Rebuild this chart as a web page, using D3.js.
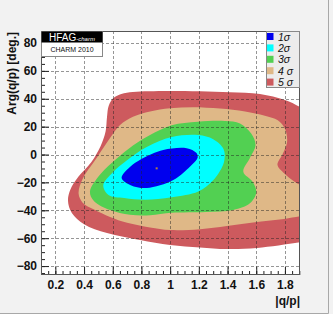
<!DOCTYPE html>
<html>
<head>
<meta charset="utf-8">
<script src="https://cdn.jsdelivr.net/npm/d3@7"></script>
<style>
  body { margin: 0; background: #f2f2f2; }
  svg { display: block; font-family: "Liberation Sans", Arial, sans-serif; }
</style>
</head>
<body>
<div id="chart"></div>
<script>
"use strict";

// contour outlines, [|q/p|, Arg(q/p) deg]
const sigma5 = [[0.56, 27.0], [0.572, 35.0], [0.605, 40.5], [0.66, 43.4], [0.74, 44.9], [0.85, 45.4], [1.0, 45.6],
  [1.208, 45.3], [1.417, 44.6], [1.626, 43.4], [1.80, 39.1], [1.905, 34.1], [2.1, 22.0], [2.12, -20.0],
  [2.1, -60.0], [1.905, -63.0], [1.605, -67.1], [1.396, -67.8], [1.208, -66.6], [1.0, -64.9], [0.79, -61.3],
  [0.56, -56.3], [0.40, -50.0], [0.315, -42.0], [0.288, -33.0], [0.305, -25.0], [0.36, -16.0], [0.45, -5.5],
  [0.515, 6.0], [0.55, 16.5]];
const sigma4 = [[0.488, -2.5], [0.581, 11.8], [0.651, 21.2], [0.741, 27.1], [0.86, 30.9], [1.0, 33.2],
  [1.159, 34.0], [1.347, 33.0], [1.522, 30.9], [1.66, 27.8], [1.75, 24.5], [1.80, 18.5],
  [1.815, 9.0], [1.785, 0.5], [1.748, -7.5], [1.79, -13.0], [1.87, -19.7], [1.98, -27.0], [1.98, -41.0],
  [1.85, -45.2], [1.605, -48.4], [1.396, -51.3], [1.208, -53.6], [1.0, -54.2], [0.86, -52.3], [0.70, -49.0],
  [0.581, -44.8], [0.47, -39.5], [0.39, -34.5], [0.362, -28.0], [0.39, -17.5]];
const sigma3 = [[0.441, -26.7], [0.515, -14.0], [0.628, -2.8], [0.741, 6.5], [0.86, 14.0], [1.011, 21.0],
  [1.194, 23.5], [1.382, 24.0], [1.487, 22.3], [1.565, 15.0], [1.595, 6.8], [1.556, -2.5], [1.51, -12.3],
  [1.575, -19.5], [1.60, -27.0], [1.556, -35.0], [1.44, -39.8], [1.25, -41.2], [1.011, -41.8], [0.86, -43.6],
  [0.72, -43.2], [0.581, -39.8], [0.47, -33.5]];
const sigma2 = [[0.534, -21.9], [0.60, -12.8], [0.697, -4.2], [0.837, 5.4], [1.011, 12.6], [1.196, 14.0],
  [1.30, 11.0], [1.372, 4.0], [1.375, -5.5], [1.30, -18.5], [1.196, -26.5], [1.011, -30.6], [0.825, -32.4],
  [0.68, -31.2], [0.57, -29.0]];
const sigma1 = [[0.662, -16.9], [0.72, -9.0], [0.80, -3.2], [0.952, 3.2], [1.115, 4.5], [1.182, 1.2],
  [1.192, -2.2], [1.155, -7.0], [1.022, -18.3], [0.837, -24.0], [0.725, -22.0]];
const bestFit = [0.906, -9.9];

const contours = [sigma5, sigma4, sigma3, sigma2, sigma1];
const contourColors = ["#cd5a5e", "#dfb887", "#52d052", "#00ffff", "#0000ee"];
const legendLabels = ["1σ", "2σ", "3σ", "4 σ", "5 σ"];
const legendColors = ["#0000ee", "#00ffff", "#52d052", "#dfb887", "#cd5a5e"];

const W = 333, H = 314;
const fx0 = 41, fx1 = 300, fy0 = 31, fy1 = 275;

const svg = d3.select('#chart').append('svg').attr('width', W).attr('height', H);

svg.append('rect').attr('width', W).attr('height', H).attr('fill', '#f2f2f2');
// pad edge
svg.append('path').attr('d', `M328.5,0V313.5H0`).attr('fill', 'none').attr('stroke', '#a8a8a8');

let x = d3.scaleLinear().domain([0.1, 1.905]).range([fx0, fx1]);
let y = d3.scaleLinear().domain([-86.4, 88.6]).range([fy1, fy0]);

svg.append('defs').append('clipPath').attr('id', 'frame-clip')
   .append('rect').attr('x', fx0).attr('y', fy0).attr('width', fx1 - fx0).attr('height', fy1 - fy0);

svg.append('rect').attr('x', fx0).attr('y', fy0).attr('width', fx1 - fx0).attr('height', fy1 - fy0)
   .attr('fill', 'white');

let contourLine = d3.line()
                    .x(d => x(d[0]))
                    .y(d => y(d[1]))
                    .curve(d3.curveCatmullRomClosed.alpha(0.5));

const plot = svg.append('g').attr('clip-path', 'url(#frame-clip)');
plot.selectAll('.contour')
    .data(contours).enter()
    .append('path')
    .attr('class', 'contour')
    .attr('d', contourLine)
    .attr('fill', (d, i) => contourColors[i]);

plot.append('rect')
    .attr('x', x(bestFit[0]) - 1).attr('y', y(bestFit[1]) - 1)
    .attr('width', 2).attr('height', 2).attr('fill', '#b08040');

// grid
const xMajor = x.ticks(9), yMajor = y.ticks(9);
const xMinor = x.ticks(36), yMinor = y.ticks(35);
const grid = svg.append('g').attr('stroke', '#222').attr('stroke-opacity', 0.6)
                .attr('stroke-dasharray', '3,2').attr('stroke-width', 0.8);
grid.selectAll('.gx').data(xMajor).enter().append('line')
    .attr('x1', d => Math.round(x(d)) + 0.5).attr('x2', d => Math.round(x(d)) + 0.5)
    .attr('y1', fy0).attr('y2', fy1);
grid.selectAll('.gy').data(yMajor).enter().append('line')
    .attr('y1', d => Math.round(y(d)) + 0.5).attr('y2', d => Math.round(y(d)) + 0.5)
    .attr('x1', fx0).attr('x2', fx1);

// axes
const fmt = d3.format('~g');
svg.append('g').attr('transform', `translate(0,${fy1})`)
   .call(d3.axisBottom(x).tickValues(xMajor).tickFormat(fmt).tickSizeInner(-8).tickSizeOuter(0).tickPadding(5));
svg.append('g').attr('transform', `translate(0,${fy1})`)
   .call(d3.axisBottom(x).tickValues(xMinor).tickFormat('').tickSizeInner(-4).tickSizeOuter(0));
svg.append('g').attr('transform', `translate(${fx0},0)`)
   .call(d3.axisLeft(y).tickValues(yMajor).tickFormat(fmt).tickSizeInner(-8).tickSizeOuter(0).tickPadding(4));
svg.append('g').attr('transform', `translate(${fx0},0)`)
   .call(d3.axisLeft(y).tickValues(yMinor).tickFormat('').tickSizeInner(-4).tickSizeOuter(0));

svg.selectAll('.domain').remove();
svg.selectAll('.tick line').attr('stroke', '#222');
svg.selectAll('.tick text').attr('font-family', '"Liberation Sans", Arial, sans-serif')
   .attr('font-weight', 'bold').attr('font-size', 12).attr('fill', '#111');

// frame
svg.append('rect').attr('x', fx0 + 0.5).attr('y', fy0 + 0.5).attr('width', fx1 - fx0 - 1).attr('height', fy1 - fy0 - 1)
   .attr('fill', 'none').attr('stroke', '#555');

// titles
svg.append('text').attr('transform', `translate(16,${fy0 + 1}) rotate(-90)`)
   .attr('text-anchor', 'end').attr('font-weight', 'bold').attr('font-size', 12).attr('fill', '#111')
   .text('Arg(q/p) [deg.]');
svg.append('text').attr('x', fx1).attr('y', 305)
   .attr('text-anchor', 'end').attr('font-weight', 'bold').attr('font-size', 12).attr('fill', '#111')
   .text('|q/p|');

// HFAG label
const hf = svg.append('g');
hf.append('rect').attr('x', fx0 + 0.5).attr('y', fy0 + 0.5).attr('width', 61).attr('height', 25)
  .attr('fill', 'white').attr('stroke', '#888');
hf.append('rect').attr('x', fx0 + 0.5).attr('y', fy0 + 0.5).attr('width', 61).attr('height', 11).attr('fill', 'black');
const ht = hf.append('text').attr('x', 49).attr('y', 40.5).attr('fill', 'white').attr('font-size', 10);
ht.append('tspan').text('HFAG');
ht.append('tspan').attr('font-size', 6).attr('font-style', 'italic').text('-charm');
hf.append('text').attr('x', 72).attr('y', 52).attr('text-anchor', 'middle').attr('font-size', 7).attr('fill', '#111')
  .text('CHARM 2010');

// legend
const lg = svg.append('g');
lg.append('rect').attr('x', 266.5).attr('y', fy0 + 0.5).attr('width', 33).attr('height', 56)
  .attr('fill', '#ececec').attr('stroke', '#888');
const rows = lg.selectAll('.lrow').data(legendLabels).enter().append('g')
               .attr('transform', (d, i) => `translate(0,${36.5 + i * 11.4})`);
rows.append('rect').attr('x', 267).attr('y', -3.5).attr('width', 6.5).attr('height', 7)
    .attr('fill', (d, i) => legendColors[i]);
rows.append('text').attr('x', 278).attr('y', 4).attr('font-size', 10.5).attr('font-style', 'italic')
    .attr('fill', '#111').text(d => d);
</script>
</body>
</html>
